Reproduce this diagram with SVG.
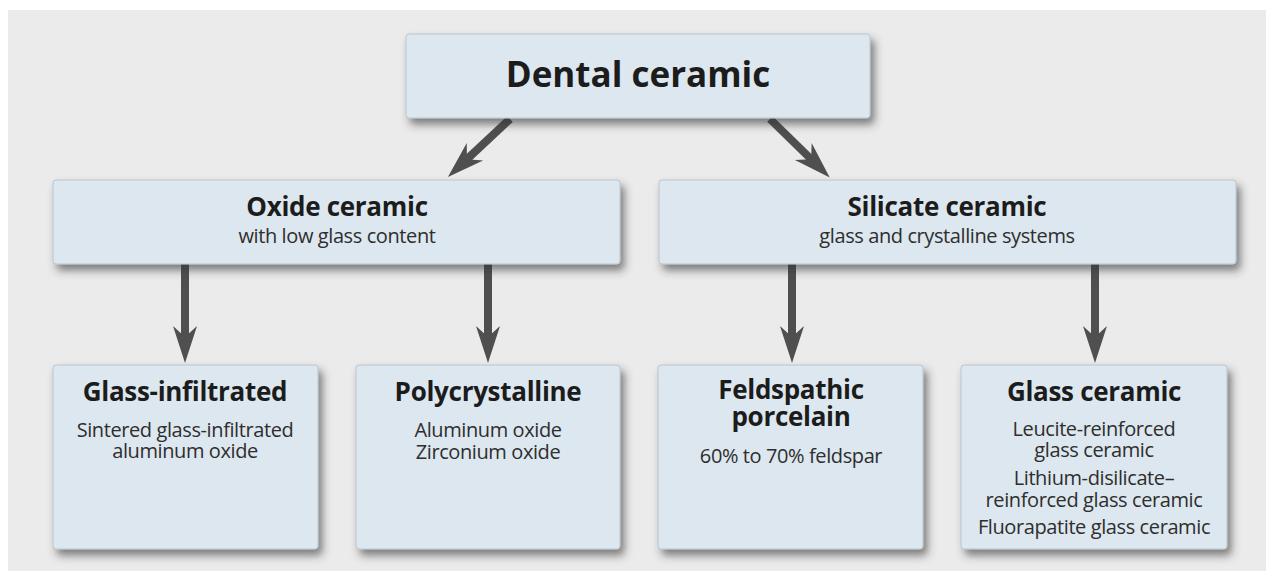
<svg xmlns="http://www.w3.org/2000/svg" width="1266" height="571" viewBox="0 0 1266 571">
<defs>
<filter id="sh" x="-10%" y="-10%" width="125%" height="135%">
<feDropShadow dx="4" dy="6" stdDeviation="4" flood-color="#333333" flood-opacity="0.6"/>
</filter>
<marker id="ah" markerUnits="userSpaceOnUse" viewBox="0 0 40 24" markerWidth="40" markerHeight="24" refX="18" refY="12" orient="auto">
<path d="M3,0 L40,12 L3,24 L14,12 Z" fill="#4f4f4f"/>
</marker>
</defs>
<style>
.box{fill:#dde7ef;stroke:#b9c5cd;stroke-width:1;filter:url(#sh)}
.t{font-family:"Open Sans","Noto Sans","Liberation Sans",sans-serif;text-anchor:middle;fill:#1c1c1c}
.h0{font-size:35px;font-weight:bold}
.h1{font-size:26px;font-weight:bold;letter-spacing:-0.3px}
.s{font-size:20px;fill:#2e2e2e;letter-spacing:-0.4px}
.c{stroke:#4f4f4f;stroke-width:8;fill:none;marker-end:url(#ah)}
</style>
<rect x="0" y="0" width="1266" height="571" fill="#ffffff"/>
<rect x="8" y="10" width="1258" height="561" fill="#ebebeb"/>

<g id="connectors">
<line class="c" x1="510" y1="119" x2="464" y2="162"/>
<line class="c" x1="770" y1="119" x2="814" y2="162"/>
<line class="c" x1="185" y1="264" x2="185" y2="341"/>
<line class="c" x1="488" y1="264" x2="488" y2="341"/>
<line class="c" x1="792" y1="264" x2="792" y2="341"/>
<line class="c" x1="1095" y1="264" x2="1095" y2="341"/>
</g>

<g id="dental-ceramic">
<rect class="box" x="406" y="34" width="464" height="84" rx="3"/>
<text class="t h0" x="638" y="87">Dental ceramic</text>
</g>

<g id="oxide-ceramic">
<rect class="box" x="53" y="180" width="567" height="84" rx="3"/>
<text class="t h1" x="337" y="216">Oxide ceramic</text>
<text class="t s" x="337" y="243">with low glass content</text>
</g>

<g id="silicate-ceramic">
<rect class="box" x="659" y="180" width="577" height="84" rx="3"/>
<text class="t h1" x="947" y="216">Silicate ceramic</text>
<text class="t s" x="947" y="243">glass and crystalline systems</text>
</g>

<g id="glass-infiltrated">
<rect class="box" x="53" y="365" width="265" height="184" rx="3"/>
<text class="t h1" x="185" y="401">Glass-infiltrated</text>
<text class="t s" x="185" y="437">Sintered glass-infiltrated</text>
<text class="t s" x="185" y="458">aluminum oxide</text>
</g>

<g id="polycrystalline">
<rect class="box" x="356" y="365" width="264" height="184" rx="3"/>
<text class="t h1" x="488" y="401">Polycrystalline</text>
<text class="t s" x="488" y="437">Aluminum oxide</text>
<text class="t s" x="488" y="459">Zirconium oxide</text>
</g>

<g id="feldspathic-porcelain">
<rect class="box" x="658" y="365" width="265" height="184" rx="3"/>
<text class="t h1" x="791" y="399">Feldspathic</text>
<text class="t h1" x="791" y="426">porcelain</text>
<text class="t s" x="791" y="463">60% to 70% feldspar</text>
</g>

<g id="glass-ceramic">
<rect class="box" x="961" y="365" width="266" height="184" rx="3"/>
<text class="t h1" x="1094" y="401">Glass ceramic</text>
<text class="t s" x="1094" y="436">Leucite-reinforced</text>
<text class="t s" x="1094" y="457">glass ceramic</text>
<text class="t s" x="1094" y="485">Lithium-disilicate–</text>
<text class="t s" x="1094" y="507">reinforced glass ceramic</text>
<text class="t s" x="1094" y="534">Fluorapatite glass ceramic</text>
</g>
</svg>
